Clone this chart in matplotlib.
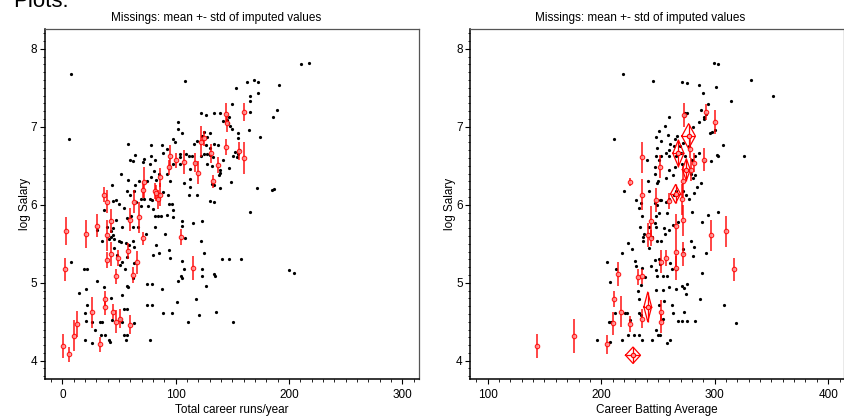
import matplotlib
matplotlib.use("Agg")
import matplotlib.pyplot as plt
from matplotlib.ticker import MultipleLocator

plt.rcParams['font.family'] = ['Liberation Sans', 'DejaVu Sans']

# left panel: runs/year vs log salary, observed players
runs_obs = [7.4, 211, 218, 108, 163, 169, 173, 191, 153, 166, 173, 166, 150, 189, 186, 166, 122, 127, 134, 139,
            142, 145, 147, 146, 102, 102, 106, 148, 150, 165, 174, 155, 155, 5.6, 58, 98, 99, 119, 123, 125,
            128, 130, 116, 127, 130, 134, 137, 78, 88, 92, 64, 72, 78, 60, 62, 82, 89, 104, 109, 112,
            114, 104, 125, 128, 130, 122, 133, 142, 151, 152, 155, 156, 71, 77, 104, 113, 117, 128, 132, 139,
            147, 154, 52, 81, 85, 92, 94, 98, 83, 78, 75, 68, 64, 58, 57, 60, 63, 69, 72, 77,
            79, 85, 89, 93, 95, 94, 97, 98, 107, 113, 113, 112, 119, 132, 134, 139, 138, 149, 139, 130,
            134, 44, 45, 47, 50, 54, 37, 65, 69, 76, 80, 57, 61, 82, 84, 87, 92, 98, 82, 91,
            67, 62, 53, 47, 39, 45, 43, 31, 35, 41, 43, 45, 46, 50, 52, 56, 59, 63, 62, 46,
            74, 83, 80, 85, 94, 95, 106, 106, 108, 115, 123, 122, 125, 141, 147, 158, 166, 172, 185, 187,
            200, 204, 8, 19, 22, 15, 21, 31, 37, 43, 48, 51, 53, 55, 57, 63, 62, 57, 58, 53,
            75, 79, 88, 106, 107, 105, 106, 102, 123, 123, 134, 135, 127, 101, 118, 75, 79, 89, 97, 111,
            121, 136, 151, 20, 22, 26, 21, 29, 33, 35, 34, 38, 44, 51, 53, 54, 57, 54, 57, 56,
            63, 20, 26, 41, 42, 77]
salary_obs_l = [7.68, 7.80, 7.82, 7.59, 7.58, 7.60, 7.57, 7.54, 7.50, 7.39, 7.43, 7.33, 7.29, 7.22, 7.12, 7.19, 7.18, 7.15, 7.18, 7.18,
                7.08, 7.09, 7.13, 7.05, 7.06, 6.97, 6.92, 7.01, 6.97, 6.96, 6.87, 6.92, 6.86, 6.84, 6.78, 6.84, 6.81, 6.82, 6.88, 6.93,
                6.87, 6.92, 6.78, 6.76, 6.73, 6.78, 6.76, 6.76, 6.76, 6.71, 6.64, 6.59, 6.63, 6.58, 6.56, 6.57, 6.67, 6.65, 6.65, 6.63,
                6.62, 6.61, 6.65, 6.65, 6.64, 6.62, 6.61, 6.58, 6.63, 6.68, 6.65, 6.70, 6.55, 6.52, 6.52, 6.46, 6.53, 6.52, 6.50, 6.45,
                6.47, 6.61, 6.40, 6.43, 6.40, 6.40, 6.47, 6.52, 6.32, 6.35, 6.30, 6.31, 6.25, 6.32, 6.18, 6.13, 6.17, 6.08, 6.07, 6.08,
                6.06, 6.14, 6.16, 6.13, 6.30, 6.01, 6.01, 5.93, 6.28, 6.33, 6.23, 6.12, 6.12, 6.26, 6.25, 6.41, 6.38, 6.29, 6.22, 6.05,
                6.04, 6.25, 6.05, 6.06, 6.01, 5.96, 5.93, 6.03, 5.99, 5.98, 5.94, 5.83, 5.85, 5.86, 5.85, 5.86, 5.87, 5.84, 5.71, 5.63,
                5.72, 5.72, 5.72, 5.80, 5.72, 5.70, 5.66, 5.68, 5.54, 5.56, 5.59, 5.61, 5.56, 5.54, 5.52, 5.51, 5.48, 5.46, 5.53, 5.44,
                5.63, 5.48, 5.36, 5.38, 5.42, 5.32, 5.79, 5.73, 5.57, 5.77, 5.79, 5.53, 5.38, 5.31, 5.31, 5.31, 5.91, 6.22, 6.19, 6.20,
                5.16, 5.12, 5.26, 5.17, 5.17, 4.87, 4.92, 5.02, 4.95, 4.80, 5.36, 5.23, 5.26, 5.18, 5.33, 5.25, 5.06, 4.96, 4.94, 4.84,
                4.98, 4.98, 4.92, 5.28, 5.17, 5.09, 5.06, 5.02, 5.08, 5.17, 5.11, 5.09, 4.96, 4.75, 4.79, 4.71, 4.71, 4.61, 4.61, 4.50,
                4.59, 4.62, 4.50, 4.61, 4.71, 4.49, 4.51, 4.39, 4.50, 4.50, 4.33, 4.33, 4.52, 4.54, 4.50, 4.66, 4.66, 4.33, 4.33, 4.26,
                4.48, 4.26, 4.23, 4.26, 4.24, 4.26]

# left panel: imputed salaries (mean and std)
runs_imp = [0.3, 6, 10, 13, 2, 3.5, 21, 26, 33, 31, 37, 39, 39, 39, 38, 38, 43, 43, 45, 47,
            47, 49, 51, 58, 60, 62, 60, 63, 66, 68, 71, 72, 71, 82, 83, 84, 86, 86, 94, 95,
            100, 107, 105, 115, 117, 120, 122, 125, 131, 133, 137, 144, 145, 144, 156, 160, 160]
salary_imp_l = [4.19, 4.08, 4.32, 4.47, 5.17, 5.66, 5.62, 4.62, 4.21, 5.73, 6.13, 6.04, 5.61, 5.29, 4.79, 4.69, 5.79, 5.37, 4.63, 5.08,
                4.50, 5.32, 4.54, 5.41, 5.81, 5.10, 4.46, 6.04, 5.26, 5.84, 6.19, 6.29, 5.57, 6.18, 6.15, 6.07, 6.35, 6.13, 6.48, 6.62,
                6.57, 6.55, 5.59, 5.19, 6.54, 6.41, 6.81, 6.85, 6.66, 6.30, 6.51, 7.17, 7.05, 6.74, 6.69, 7.19, 6.60]
salary_sd_l = [0.15, 0.10, 0.20, 0.17, 0.15, 0.18, 0.18, 0.20, 0.10, 0.15, 0.10, 0.15, 0.20, 0.10, 0.10, 0.10, 0.15, 0.15, 0.10, 0.10,
               0.15, 0.10, 0.12, 0.10, 0.15, 0.10, 0.12, 0.15, 0.15, 0.20, 0.10, 0.20, 0.08, 0.10, 0.10, 0.12, 0.12, 0.15, 0.10, 0.15,
               0.10, 0.15, 0.10, 0.15, 0.12, 0.15, 0.20, 0.10, 0.12, 0.08, 0.10, 0.13, 0.12, 0.10, 0.12, 0.12, 0.20]

# right panel: batting average vs log salary, observed players
avg_obs = [219, 246, 271, 276, 286, 299, 303, 332, 351, 301, 290, 314, 294, 288, 292, 291, 291, 274, 276, 273,
           260, 211, 256, 251, 248, 253, 259, 265, 267, 286, 281, 296, 298, 300, 307, 302, 303, 326, 297, 291,
           280, 283, 286, 277, 272, 269, 264, 261, 260, 257, 253, 249, 248, 251, 260, 266, 270, 274, 271, 275,
           279, 281, 283, 288, 265, 260, 263, 257, 250, 249, 240, 241, 242, 247, 247, 220, 231, 235, 233, 236,
           247, 249, 252, 253, 257, 260, 264, 266, 272, 275, 277, 282, 284, 280, 258, 251, 248, 247, 248, 242,
           234, 238, 237, 237, 242, 245, 249, 253, 256, 260, 263, 268, 255, 294, 303, 289, 279, 282, 272, 272,
           281, 292, 224, 227, 218, 205, 213, 208, 230, 231, 236, 244, 247, 251, 252, 248, 249, 254, 258, 261,
           262, 266, 266, 260, 254, 248, 239, 235, 232, 233, 271, 273, 276, 275, 289, 287, 308, 319, 255, 262,
           263, 268, 271, 276, 283, 273, 251, 254, 248, 250, 252, 233, 235, 221, 225, 223, 207, 209, 212, 224,
           229, 233, 236, 245, 258, 261, 208, 218, 196]
salary_obs_r = [7.68, 7.59, 7.58, 7.56, 7.54, 7.82, 7.80, 7.60, 7.39, 7.51, 7.43, 7.33, 7.29, 7.22, 7.17, 7.13, 7.10, 7.18, 7.18, 7.14,
                7.12, 6.84, 7.01, 6.95, 6.87, 6.82, 6.90, 6.84, 6.88, 7.06, 7.00, 6.92, 6.93, 6.96, 6.76, 6.64, 6.63, 6.62, 6.56, 6.56,
                6.58, 6.62, 6.66, 6.75, 6.79, 6.75, 6.75, 6.78, 6.70, 6.66, 6.63, 6.73, 6.63, 6.58, 6.62, 6.62, 6.66, 6.62, 6.52, 6.45,
                6.40, 6.34, 6.38, 6.28, 6.49, 6.45, 6.38, 6.34, 6.30, 6.28, 6.58, 6.30, 6.17, 6.40, 6.48, 6.18, 6.06, 6.02, 5.96, 5.86,
                6.02, 6.00, 6.06, 6.06, 6.04, 6.08, 6.12, 6.18, 6.18, 6.12, 6.08, 6.15, 6.23, 5.91, 5.89, 5.89, 5.85, 5.77, 5.72, 5.72,
                5.72, 5.63, 5.58, 5.54, 5.44, 5.58, 5.53, 5.53, 5.63, 5.68, 5.74, 5.78, 5.70, 5.87, 5.91, 5.78, 5.53, 5.46, 5.43, 5.38,
                5.34, 5.38, 5.51, 5.43, 5.38, 5.26, 5.17, 5.01, 5.28, 5.21, 5.19, 5.22, 5.29, 5.30, 5.24, 5.16, 5.09, 5.08, 5.09, 5.25,
                5.17, 5.17, 4.92, 4.95, 4.91, 4.91, 5.07, 4.97, 4.89, 4.79, 4.96, 4.93, 4.98, 4.85, 5.12, 4.79, 4.71, 4.48, 4.76, 4.71,
                4.61, 4.51, 4.51, 4.51, 4.51, 4.62, 4.71, 4.53, 4.39, 4.33, 4.33, 4.61, 4.59, 4.61, 4.52, 4.61, 4.50, 4.49, 4.61, 4.33,
                4.33, 4.33, 4.26, 4.26, 4.23, 4.26, 4.24, 4.26, 4.26]

# right panel: imputed salaries (mean and std)
avg_imp = [143, 176, 205, 210, 211, 217, 215, 225, 225, 236, 236, 232, 236, 236, 241, 244, 244, 252, 253, 253,
           253, 248, 260, 257, 266, 266, 266, 272, 272, 272, 271, 273, 282, 291, 292, 300, 297, 310, 317, 278,
           279]
salary_imp_r = [4.19, 4.32, 4.21, 4.48, 4.79, 4.63, 5.11, 4.47, 6.29, 6.61, 6.13, 5.07, 5.08, 4.54, 5.61, 5.79, 5.57, 6.49, 5.27, 4.63,
                4.50, 6.06, 6.05, 5.32, 5.73, 5.39, 5.19, 5.80, 5.37, 6.30, 6.07, 7.15, 6.54, 6.58, 7.19, 7.06, 5.61, 5.66, 5.17, 6.72,
                6.45]
salary_sd_r = [0.15, 0.22, 0.12, 0.15, 0.10, 0.20, 0.15, 0.10, 0.05, 0.20, 0.20, 0.10, 0.10, 0.12, 0.15, 0.20, 0.10, 0.15, 0.15, 0.15,
               0.15, 0.15, 0.10, 0.10, 0.15, 0.20, 0.15, 0.20, 0.15, 0.20, 0.20, 0.15, 0.12, 0.15, 0.10, 0.15, 0.20, 0.20, 0.15, 0.12,
               0.15]

# right panel: both values imputed (mean and std in x and y)
avg_both = [277, 268, 275, 265.5, 241, 228]
avg_both_sd = [6, 4.9, 3.5, 4.4, 3.4, 6.6]
salary_both = [6.88, 6.66, 6.45, 6.14, 4.69, 4.07]
salary_both_sd = [0.16, 0.17, 0.14, 0.12, 0.19, 0.105]

title = "Missings: mean +- std of imputed values"
red = "#ff0000"

fig = plt.figure(figsize=(8.44, 4.17), dpi=100)
fig.text(0.015, 1 - 7 / 417, "Plots:", fontsize=16, va="baseline", ha="left")


def style_axes(ax, xlim, xticks, xlabel):
    ax.set_xlim(*xlim)
    ax.set_ylim(3.765, 8.25)
    ax.set_xticks(xticks)
    ax.set_yticks([4, 5, 6, 7, 8])
    ax.xaxis.set_minor_locator(MultipleLocator(10))
    ax.yaxis.set_minor_locator(MultipleLocator(0.1))
    ax.tick_params(which="major", direction="out", length=3.5, width=0.8, labelsize=8.5)
    ax.tick_params(which="minor", direction="out", length=1.8, width=0.6)
    ax.tick_params(axis="x", pad=3.5)
    ax.tick_params(axis="y", pad=2)
    for s in ["left", "bottom"]:
        ax.spines[s].set_color("black")
        ax.spines[s].set_linewidth(1.1)
    for s in ["top", "right"]:
        ax.spines[s].set_color("#555555")
        ax.spines[s].set_linewidth(0.9)
    ax.set_xlabel(xlabel, fontsize=8.5, labelpad=2.5)
    ax.set_ylabel("log Salary", fontsize=8.5, labelpad=0)


# left
ax1 = fig.add_axes([0.0533, 0.0911, 0.4435, 0.8386])
ax1.plot(runs_obs, salary_obs_l, "o", color="black", ms=2.3, mew=0)
ax1.errorbar(runs_imp, salary_imp_l, yerr=salary_sd_l, fmt="o", ms=3.2, mfc="#ff9a9a", mec=red, mew=0.8,
             ecolor=red, elinewidth=1.2, capsize=0, alpha=0.85)
style_axes(ax1, (-15.3, 315), [0, 100, 200, 300], "Total career runs/year")
fig.text(0.256, 1 - 18.3 / 417, title, fontsize=8.5, ha="center", va="center")

# right
ax2 = fig.add_axes([0.5573, 0.0911, 0.4428, 0.8386])
ax2.plot(avg_obs, salary_obs_r, "o", color="black", ms=2.3, mew=0)
ax2.errorbar(avg_imp, salary_imp_r, yerr=salary_sd_r, fmt="o", ms=3.2, mfc="#ff9a9a", mec=red, mew=0.8,
             ecolor=red, elinewidth=1.2, capsize=0, alpha=0.85)
for x, sx, y, sy in zip(avg_both, avg_both_sd, salary_both, salary_both_sd):
    ax2.plot([x - sx, x, x + sx, x, x - sx], [y, y + sy, y, y - sy, y], color=red, lw=0.9)
ax2.errorbar(avg_both, salary_both, xerr=avg_both_sd, yerr=salary_both_sd, fmt="o", ms=3.2, mfc="#ff9a9a",
             mec=red, mew=0.8, ecolor=red, elinewidth=0.9, capsize=0)
style_axes(ax2, (84.7, 414), [100, 200, 300, 400], "Career Batting Average")
fig.text(0.758, 1 - 18.3 / 417, title, fontsize=8.5, ha="center", va="center")

fig.savefig("out.png", dpi=100)
